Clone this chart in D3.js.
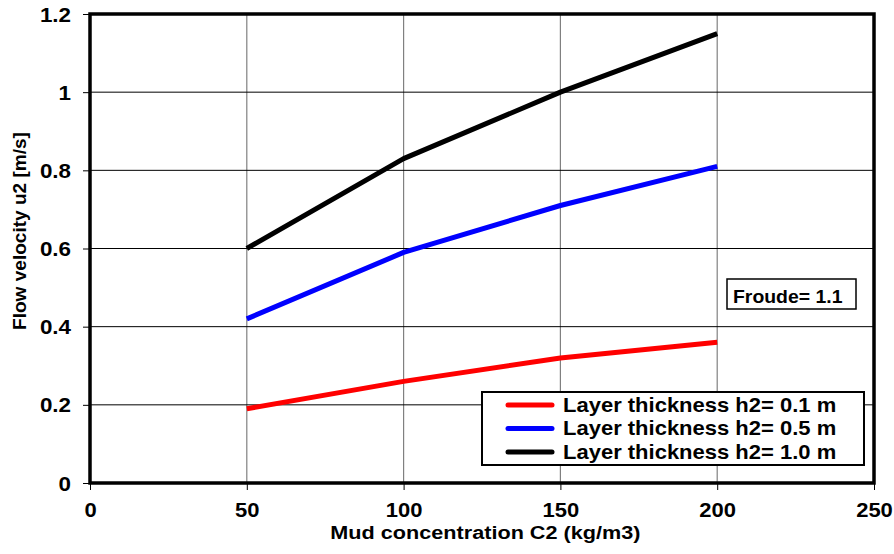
<!DOCTYPE html>
<html><head><meta charset="utf-8">
<script src="https://cdn.jsdelivr.net/npm/d3@7"></script>
<style>body{margin:0;background:#fff}svg{display:block}text{font-family:"Liberation Sans",Arial,sans-serif;font-weight:bold;fill:#000}</style>
</head><body><svg id="c" width="894" height="554"></svg>
<script>
const concentrations = [50, 100, 150, 200];
const velH01 = [0.19, 0.26, 0.32, 0.36];
const velH05 = [0.42, 0.59, 0.71, 0.81];
const velH10 = [0.60, 0.83, 1.00, 1.15];
const seriesNames = ["Layer thickness h2= 0.1 m", "Layer thickness h2= 0.5 m", "Layer thickness h2= 1.0 m"];
const seriesColors = ["#ff0000", "#0000ff", "#000000"];
const xTicks = [0, 50, 100, 150, 200, 250];
const yTicks = [0, 0.2, 0.4, 0.6, 0.8, 1, 1.2];

const svg = d3.select("#c");
const L = 90, R = 874, T = 14, B = 483;
const x = d3.scaleLinear().domain([0, 250]).range([L, R]);
const y = d3.scaleLinear().domain([0, 1.2]).range([B, T]);

function stext(g, tx, ty, str, size, sx, anchor, rot) {
  return g.append("text")
    .attr("transform", `translate(${tx},${ty})` + (rot ? ` rotate(${rot})` : "") + ` scale(${sx},1)`)
    .attr("text-anchor", anchor || "start")
    .style("font-size", size + "px").text(str);
}

// gridlines
svg.append("g").selectAll("line").data(xTicks.slice(1, -1)).join("line")
  .attr("x1", d => x(d)).attr("x2", d => x(d)).attr("y1", T).attr("y2", B)
  .attr("stroke", "#808080").attr("stroke-width", 1.2);
svg.append("g").selectAll("line").data(yTicks.slice(1, -1)).join("line")
  .attr("x1", L).attr("x2", R).attr("y1", d => y(d)).attr("y2", d => y(d))
  .attr("stroke", "#000").attr("stroke-width", 1);

// axes
const xAxis = svg.append("g").attr("transform", `translate(0,${B})`)
  .call(d3.axisBottom(x).tickValues(xTicks).tickSize(7).tickFormat(d3.format("d")));
const yAxis = svg.append("g").attr("transform", `translate(${L},0)`)
  .call(d3.axisLeft(y).tickValues(yTicks).tickSize(7).tickFormat(d => String(+d.toFixed(1))));
[xAxis, yAxis].forEach(a => {
  a.select(".domain").remove();
  a.attr("font-size", null).attr("font-family", null);
  a.selectAll(".tick line").attr("stroke", "#000").attr("stroke-width", 1);
  a.selectAll("text").attr("fill", "#000").attr("x", null).attr("y", null).attr("dy", null)
   .style("font-size", "20px");
});
xAxis.selectAll("text").attr("text-anchor", "middle").attr("transform", "translate(0,34) scale(1.1,1)");
yAxis.selectAll("text").attr("text-anchor", "end").attr("transform", "translate(-19,7) scale(1.12,1)");

// frame
svg.append("rect").attr("x", L).attr("y", T).attr("width", R - L).attr("height", B - T)
  .attr("fill", "none").attr("stroke", "#000").attr("stroke-width", 3.5);

// lines
const allSeries = [velH01, velH05, velH10];
const line = d3.line().x((d, i) => x(concentrations[i])).y(d => y(d));
svg.append("g").selectAll("path").data(allSeries).join("path")
  .attr("d", d => line(d)).attr("fill", "none")
  .attr("stroke", (d, i) => seriesColors[i]).attr("stroke-width", 5)
  .attr("stroke-linejoin", "round").attr("stroke-linecap", "butt");

// legend
const lg = svg.append("g");
lg.append("rect").attr("x", 482).attr("y", 392).attr("width", 382).attr("height", 73)
  .attr("fill", "#fff").attr("stroke", "#000").attr("stroke-width", 2);
seriesNames.forEach((n, i) => {
  const base = 411.7 + i * 23.5;
  lg.append("line").attr("x1", 508).attr("x2", 552).attr("y1", base - 6.7).attr("y2", base - 6.7)
    .attr("stroke", seriesColors[i]).attr("stroke-width", 5).attr("stroke-linecap", "round");
  stext(lg, 563, base, n, 20, 1.1);
});

// Froude box
svg.append("rect").attr("x", 727).attr("y", 279).attr("width", 129).attr("height", 30)
  .attr("fill", "#fff").attr("stroke", "#000").attr("stroke-width", 1.5);
stext(svg, 733, 303.3, "Froude= 1.1", 18.5, 1.05);

// axis titles
stext(svg, 485.4, 539.3, "Mud concentration C2 (kg/m3)", 18.5, 1.17, "middle");
stext(svg, 26, 231, "Flow velocity u2 [m/s]", 18.5, 1.03, "middle", -90);
</script></body></html>
